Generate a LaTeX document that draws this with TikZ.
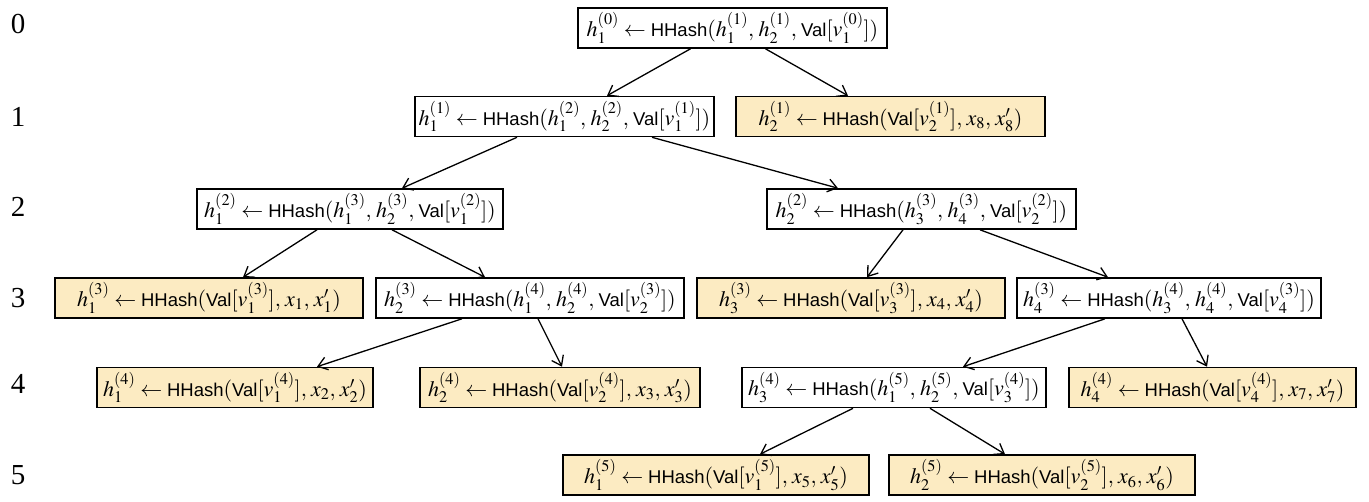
\documentclass[tikz,border=0pt]{standalone}
\usepackage{mathptmx}
\usepackage{fontspec}
\setmainfont{Liberation Serif}
\setsansfont{Liberation Sans}
\usetikzlibrary{arrows.meta,calc}
\definecolor{leaf}{HTML}{FCEBC2}
\newcommand{\HHs}{\mbox{\fontsize{18.5}{20}\selectfont\sffamily HHash}}
\newcommand{\Vl}{\mbox{\fontsize{18.5}{20}\selectfont\sffamily Val}}
\newcommand{\cm}{,\mskip 1.5mu}
\tikzset{
  box/.style={draw=black,line width=1.6pt,minimum height=40pt,inner sep=1pt,anchor=center,font=\fontsize{22}{24}\selectfont},
  leafbox/.style={box,fill=leaf},
  arr/.style={line width=1.3pt,-{Straight Barb[length=9pt,width=13pt,line width=1.3pt]}},
  lvl/.style={font=\fontsize{29}{30}\selectfont,inner sep=0pt,anchor=center}
}
\begin{document}
\begin{tikzpicture}[x=1pt,y=-1pt]
\useasboundingbox (0,0) rectangle (1369,501);
% level labels
\node[lvl] (l0) at (18,24) {0};
\node[lvl] (l1) at (18,117) {1};
\node[lvl] (l2) at (18,207) {2};
\node[lvl] (l3) at (18,298) {3};
\node[lvl] (l4) at (18,384) {4};
\node[lvl] (l5) at (18,475) {5};
% nodes
\node[box,minimum width=309pt] (n0) at (732.5,28) {$h_1^{(0)} \leftarrow \HHs(h_1^{(1)}\cm h_2^{(1)}\cm \Vl[v_1^{(0)}])$};
\node[box,minimum width=299pt] (a1) at (564.5,116.5) {$h_1^{(1)} \leftarrow \HHs(h_1^{(2)}\cm h_2^{(2)}\cm \Vl[v_1^{(1)}])$};
\node[leafbox,minimum width=309pt] (b1) at (890.5,116.5) {$h_2^{(1)} \leftarrow \HHs(\Vl[v_2^{(1)}]\cm x_8\cm x_8')$};
\node[box,minimum width=306pt] (c1) at (350,209) {$h_1^{(2)} \leftarrow \HHs(h_1^{(3)}\cm h_2^{(3)}\cm \Vl[v_1^{(2)}])$};
\node[box,minimum width=309pt] (c2) at (921.5,209) {$h_2^{(2)} \leftarrow \HHs(h_3^{(3)}\cm h_4^{(3)}\cm \Vl[v_2^{(2)}])$};
\node[leafbox,minimum width=308pt] (d1) at (209,298) {$h_1^{(3)} \leftarrow \HHs(\Vl[v_1^{(3)}]\cm x_1\cm x_1')$};
\node[box,minimum width=308pt] (d2) at (530,298) {$h_2^{(3)} \leftarrow \HHs(h_1^{(4)}\cm h_2^{(4)}\cm \Vl[v_2^{(3)}])$};
\node[leafbox,minimum width=308pt] (d3) at (851,298) {$h_3^{(3)} \leftarrow \HHs(\Vl[v_3^{(3)}]\cm x_4\cm x_4')$};
\node[box,minimum width=304pt] (d4) at (1169,298) {$h_4^{(3)} \leftarrow \HHs(h_3^{(4)}\cm h_4^{(4)}\cm \Vl[v_4^{(3)}])$};
\node[leafbox,minimum width=276pt] (e1) at (235,387.5) {$h_1^{(4)} \leftarrow \HHs(\Vl[v_1^{(4)}]\cm x_2\cm x_2')$};
\node[leafbox,minimum width=280pt] (e2) at (560,387.5) {$h_2^{(4)} \leftarrow \HHs(\Vl[v_2^{(4)}]\cm x_3\cm x_3')$};
\node[box,minimum width=304pt] (e3) at (894,387.5) {$h_3^{(4)} \leftarrow \HHs(h_1^{(5)}\cm h_2^{(5)}\cm \Vl[v_3^{(4)}])$};
\node[leafbox,minimum width=287pt] (e4) at (1212.5,387.5) {$h_4^{(4)} \leftarrow \HHs(\Vl[v_4^{(4)}]\cm x_7\cm x_7')$};
\node[leafbox,minimum width=306pt] (f1) at (716,475) {$h_1^{(5)} \leftarrow \HHs(\Vl[v_1^{(5)}]\cm x_5\cm x_5')$};
\node[leafbox,minimum width=306pt] (f2) at (1042,475) {$h_2^{(5)} \leftarrow \HHs(\Vl[v_2^{(5)}]\cm x_6\cm x_6')$};
% edges
\draw[arr] ($(n0.south)+(-42,0)$) -- ($(a1.north)+(42.5,0)$);
\draw[arr] ($(n0.south)+(33,0)$) -- ($(b1.north)+(-42.5,0)$);
\draw[arr] ($(a1.south)+(-47.5,0)$) -- ($(c1.north)+(52,0)$);
\draw[arr] ($(a1.south)+(87.5,0)$) -- ($(c2.north)+(-83.5,0)$);
\draw[arr] ($(c1.south)+(-33,0)$) -- ($(d1.north)+(34,0)$);
\draw[arr] ($(c1.south)+(42,0)$) -- ($(d2.north)+(-45,0)$);
\draw[arr] ($(c2.south)+(-18.5,0)$) -- ($(d3.north)+(16,0)$);
\draw[arr] ($(c2.south)+(58.5,0)$) -- ($(d4.north)+(-61,0)$);
\draw[arr] ($(d2.south)+(-68,0)$) -- ($(e1.north)+(82,0)$);
\draw[arr] ($(d2.south)+(8,0)$) -- ($(e2.north)+(2,0)$);
\draw[arr] ($(d4.south)+(-64,0)$) -- ($(e3.north)+(69,0)$);
\draw[arr] ($(d4.south)+(13,0)$) -- ($(e4.north)+(-5.5,0)$);
\draw[arr] ($(e3.south)+(-41,0)$) -- ($(f1.north)+(44,0)$);
\draw[arr] ($(e3.south)+(36,0)$) -- ($(f2.north)+(-37,0)$);
\end{tikzpicture}
\end{document}
